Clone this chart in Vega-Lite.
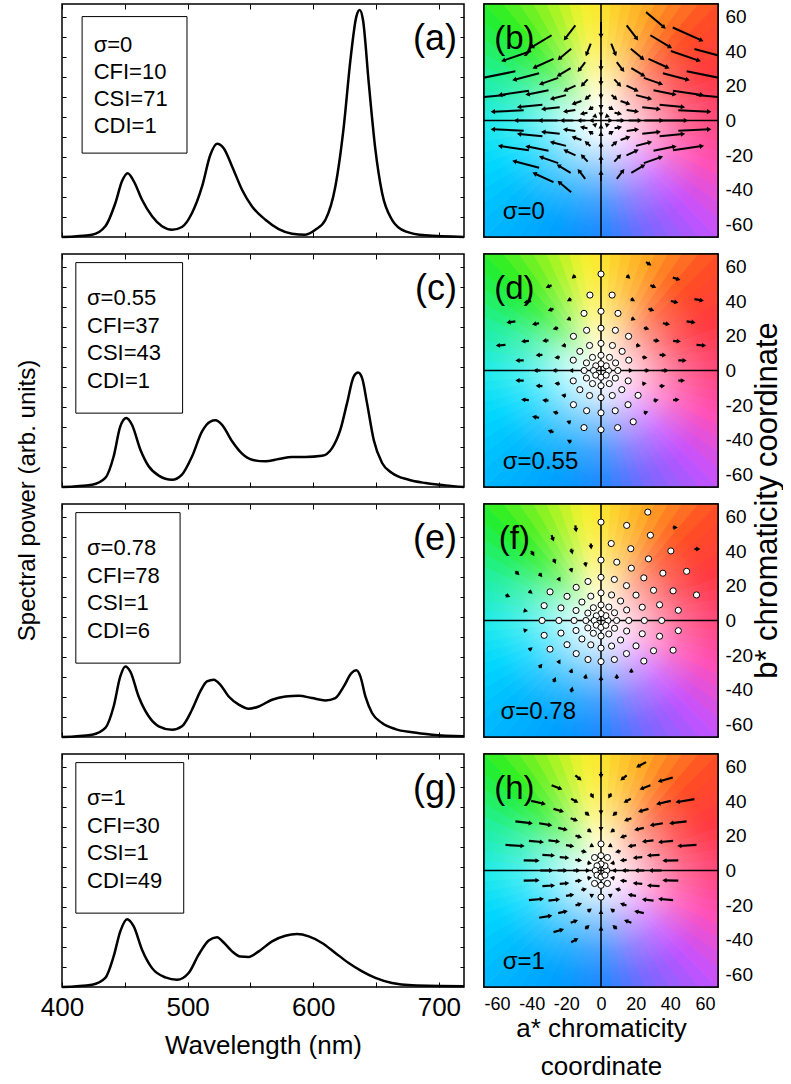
{
"$schema":"https://vega.github.io/schema/vega-lite/v6.json",
"padding":{"left":14,"top":2,"right":0,"bottom":0},
"config":{"font":"Liberation Sans","view":{"stroke":"black","strokeWidth":1.5},"axis":{"domain":false,"grid":false,"tickColor":"black","tickWidth":1,"labelColor":"black","titleColor":"black","labelFont":"Liberation Sans","titleFont":"Liberation Sans","titleFontWeight":"normal"},"text":{"color":"black","font":"Liberation Sans"}},
"datasets":{
"spec":[
{"p":"a","w":400,"v":0},{"p":"a","w":423.9,"v":0.01},{"p":"a","w":434.5,"v":0.046},{"p":"a","w":442.5,"v":0.146},{"p":"a","w":447.8,"v":0.24},{"p":"a","w":452.3,"v":0.274},{"p":"a","w":457.1,"v":0.24},{"p":"a","w":463.7,"v":0.16},{"p":"a","w":471.7,"v":0.089},{"p":"a","w":479.6,"v":0.046},{"p":"a","w":487.6,"v":0.031},{"p":"a","w":495.5,"v":0.043},{"p":"a","w":503.5,"v":0.103},{"p":"a","w":511.5,"v":0.217},{"p":"a","w":518.1,"v":0.353},{"p":"a","w":523.4,"v":0.4},{"p":"a","w":528.7,"v":0.381},{"p":"a","w":535.4,"v":0.303},{"p":"a","w":543.3,"v":0.203},{"p":"a","w":551.3,"v":0.131},{"p":"a","w":561.9,"v":0.074},{"p":"a","w":572.5,"v":0.034},{"p":"a","w":583.1,"v":0.014},{"p":"a","w":593.7,"v":0.01},{"p":"a","w":601.7,"v":0.031},{"p":"a","w":609.7,"v":0.074},{"p":"a","w":617.6,"v":0.217},{"p":"a","w":624.3,"v":0.474},{"p":"a","w":629.6,"v":0.76},{"p":"a","w":634.3,"v":0.946},{"p":"a","w":637,"v":0.974},{"p":"a","w":639.6,"v":0.931},{"p":"a","w":644.2,"v":0.66},{"p":"a","w":649.5,"v":0.374},{"p":"a","w":654.8,"v":0.189},{"p":"a","w":662.7,"v":0.074},{"p":"a","w":673.4,"v":0.024},{"p":"a","w":689.3,"v":0.007},{"p":"a","w":720,"v":0},
{"p":"c","w":400,"v":0},{"p":"c","w":423.9,"v":0.01},{"p":"c","w":434.5,"v":0.039},{"p":"c","w":441.1,"v":0.131},{"p":"c","w":446.4,"v":0.26},{"p":"c","w":451.2,"v":0.296},{"p":"c","w":455.7,"v":0.267},{"p":"c","w":462.4,"v":0.16},{"p":"c","w":469,"v":0.089},{"p":"c","w":477,"v":0.049},{"p":"c","w":487.6,"v":0.031},{"p":"c","w":495.5,"v":0.053},{"p":"c","w":503.5,"v":0.131},{"p":"c","w":511.5,"v":0.239},{"p":"c","w":518.1,"v":0.281},{"p":"c","w":522.1,"v":0.286},{"p":"c","w":527.4,"v":0.267},{"p":"c","w":535.4,"v":0.196},{"p":"c","w":543.3,"v":0.143},{"p":"c","w":551.3,"v":0.117},{"p":"c","w":561.9,"v":0.11},{"p":"c","w":572.5,"v":0.12},{"p":"c","w":583.1,"v":0.129},{"p":"c","w":593.7,"v":0.129},{"p":"c","w":607,"v":0.134},{"p":"c","w":615,"v":0.167},{"p":"c","w":621.6,"v":0.246},{"p":"c","w":626.9,"v":0.36},{"p":"c","w":632.2,"v":0.474},{"p":"c","w":635.7,"v":0.491},{"p":"c","w":638.9,"v":0.467},{"p":"c","w":642.8,"v":0.36},{"p":"c","w":648.1,"v":0.203},{"p":"c","w":654.8,"v":0.103},{"p":"c","w":662.7,"v":0.06},{"p":"c","w":676,"v":0.031},{"p":"c","w":689.3,"v":0.017},{"p":"c","w":705.2,"v":0.007},{"p":"c","w":720,"v":0},
{"p":"e","w":400,"v":0},{"p":"e","w":423.9,"v":0.01},{"p":"e","w":434.5,"v":0.039},{"p":"e","w":441.1,"v":0.131},{"p":"e","w":446.4,"v":0.26},{"p":"e","w":450.4,"v":0.303},{"p":"e","w":454.4,"v":0.281},{"p":"e","w":461,"v":0.174},{"p":"e","w":469,"v":0.089},{"p":"e","w":477,"v":0.046},{"p":"e","w":487.6,"v":0.031},{"p":"e","w":495.5,"v":0.046},{"p":"e","w":503.5,"v":0.117},{"p":"e","w":510.1,"v":0.196},{"p":"e","w":515.4,"v":0.239},{"p":"e","w":520.8,"v":0.246},{"p":"e","w":526.1,"v":0.224},{"p":"e","w":532.7,"v":0.174},{"p":"e","w":540.7,"v":0.139},{"p":"e","w":548.6,"v":0.121},{"p":"e","w":556.6,"v":0.131},{"p":"e","w":567.2,"v":0.16},{"p":"e","w":577.8,"v":0.174},{"p":"e","w":588.4,"v":0.177},{"p":"e","w":599,"v":0.167},{"p":"e","w":609.7,"v":0.157},{"p":"e","w":617.6,"v":0.167},{"p":"e","w":624.3,"v":0.217},{"p":"e","w":630.4,"v":0.274},{"p":"e","w":634.3,"v":0.286},{"p":"e","w":637.5,"v":0.26},{"p":"e","w":641.5,"v":0.174},{"p":"e","w":646.8,"v":0.103},{"p":"e","w":654.8,"v":0.06},{"p":"e","w":665.4,"v":0.034},{"p":"e","w":678.7,"v":0.02},{"p":"e","w":694.6,"v":0.01},{"p":"e","w":720,"v":0.003},
{"p":"g","w":400,"v":0},{"p":"g","w":423.9,"v":0.01},{"p":"g","w":434.5,"v":0.039},{"p":"g","w":441.1,"v":0.131},{"p":"g","w":446.4,"v":0.239},{"p":"g","w":451.8,"v":0.291},{"p":"g","w":457.1,"v":0.26},{"p":"g","w":463.7,"v":0.16},{"p":"g","w":471.7,"v":0.081},{"p":"g","w":482.3,"v":0.041},{"p":"g","w":491.6,"v":0.031},{"p":"g","w":500.8,"v":0.06},{"p":"g","w":508.8,"v":0.139},{"p":"g","w":516.8,"v":0.2},{"p":"g","w":523.4,"v":0.214},{"p":"g","w":528.7,"v":0.191},{"p":"g","w":535.4,"v":0.153},{"p":"g","w":542,"v":0.131},{"p":"g","w":548.6,"v":0.129},{"p":"g","w":556.6,"v":0.153},{"p":"g","w":567.2,"v":0.196},{"p":"g","w":577.8,"v":0.22},{"p":"g","w":587.1,"v":0.227},{"p":"g","w":596.4,"v":0.217},{"p":"g","w":607,"v":0.189},{"p":"g","w":617.6,"v":0.146},{"p":"g","w":628.2,"v":0.103},{"p":"g","w":638.9,"v":0.067},{"p":"g","w":649.5,"v":0.039},{"p":"g","w":662.7,"v":0.017},{"p":"g","w":678.7,"v":0.007},{"p":"g","w":720,"v":0.003}
],
"hue":[{"k":0,"w":1},{"k":1,"w":1},{"k":2,"w":1},{"k":3,"w":1},{"k":4,"w":1},{"k":5,"w":1},{"k":6,"w":1},{"k":7,"w":1},{"k":8,"w":1},{"k":9,"w":1},{"k":10,"w":1},{"k":11,"w":1},{"k":12,"w":1},{"k":13,"w":1},{"k":14,"w":1},{"k":15,"w":1},{"k":16,"w":1},{"k":17,"w":1},{"k":18,"w":1},{"k":19,"w":1},{"k":20,"w":1},{"k":21,"w":1},{"k":22,"w":1},{"k":23,"w":1},{"k":24,"w":1},{"k":25,"w":1},{"k":26,"w":1},{"k":27,"w":1},{"k":28,"w":1},{"k":29,"w":1},{"k":30,"w":1},{"k":31,"w":1},{"k":32,"w":1},{"k":33,"w":1},{"k":34,"w":1},{"k":35,"w":1},{"k":36,"w":1},{"k":37,"w":1},{"k":38,"w":1},{"k":39,"w":1},{"k":40,"w":1},{"k":41,"w":1},{"k":42,"w":1},{"k":43,"w":1},{"k":44,"w":1},{"k":45,"w":1},{"k":46,"w":1},{"k":47,"w":1},{"k":48,"w":1},{"k":49,"w":1},{"k":50,"w":1},{"k":51,"w":1},{"k":52,"w":1},{"k":53,"w":1},{"k":54,"w":1},{"k":55,"w":1},{"k":56,"w":1},{"k":57,"w":1},{"k":58,"w":1},{"k":59,"w":1},{"k":60,"w":1},{"k":61,"w":1},{"k":62,"w":1},{"k":63,"w":1},{"k":64,"w":1},{"k":65,"w":1},{"k":66,"w":1},{"k":67,"w":1},{"k":68,"w":1},{"k":69,"w":1},{"k":70,"w":1},{"k":71,"w":1}],
"arr":[
{"a":4,"b":0,"ba":5.6,"bb":0,"da":4.3,"db":0,"fa":4,"fb":0,"ha":3.3,"hb":0},
{"a":2.8,"b":2.8,"ba":3.9,"bb":2.4,"da":3,"db":2.7,"fa":2.8,"fb":2.8,"ha":2.3,"hb":2.7},
{"a":0,"b":4,"ba":0,"bb":3.4,"da":0,"db":3.9,"fa":0,"fb":4,"ha":0,"hb":3.8},
{"a":-2.8,"b":2.8,"ba":-3.9,"bb":2.4,"da":-3,"db":2.7,"fa":-2.7,"fb":2.7,"ha":-2.3,"hb":2.7},
{"a":-4,"b":0,"ba":-5.6,"bb":0,"da":-4.3,"db":0,"fa":-3.9,"fb":0,"ha":-3.3,"hb":0},
{"a":-2.8,"b":-2.8,"ba":-3.9,"bb":-2.4,"da":-3,"db":-2.7,"fa":-2.7,"fb":-2.7,"ha":-2.3,"hb":-2.7},
{"a":0,"b":-4,"ba":0,"bb":-3.4,"da":0,"db":-3.9,"fa":0,"fb":-4,"ha":0,"hb":-3.8},
{"a":2.8,"b":-2.8,"ba":3.9,"bb":-2.4,"da":3,"db":-2.7,"fa":2.8,"fb":-2.8,"ha":2.3,"hb":-2.7},
{"a":9,"b":0,"ba":12.6,"bb":0,"da":9.7,"db":0,"fa":9,"fb":0,"ha":7.4,"hb":0},
{"a":7.8,"b":4.5,"ba":10.9,"bb":3.9,"da":8.4,"db":4.4,"fa":7.8,"fb":4.5,"ha":6.4,"hb":4.3},
{"a":4.5,"b":7.8,"ba":6.3,"bb":6.7,"da":4.9,"db":7.6,"fa":4.5,"fb":7.8,"ha":3.7,"hb":7.5},
{"a":0,"b":9,"ba":0,"bb":7.7,"da":0,"db":8.8,"fa":0,"fb":9,"ha":0,"hb":8.6},
{"a":-4.5,"b":7.8,"ba":-6.3,"bb":6.7,"da":-4.9,"db":7.6,"fa":-4.4,"fb":7.4,"ha":-3.7,"hb":7.5},
{"a":-7.8,"b":4.5,"ba":-10.9,"bb":3.9,"da":-8.4,"db":4.4,"fa":-7.6,"fb":4.3,"ha":-6.4,"hb":4.3},
{"a":-9,"b":0,"ba":-12.6,"bb":0,"da":-9.7,"db":0,"fa":-8.7,"fb":0,"ha":-7.4,"hb":0},
{"a":-7.8,"b":-4.5,"ba":-10.9,"bb":-3.9,"da":-8.4,"db":-4.4,"fa":-7.6,"fb":-4.3,"ha":-6.4,"hb":-4.3},
{"a":-4.5,"b":-7.8,"ba":-6.3,"bb":-6.7,"da":-4.9,"db":-7.6,"fa":-4.4,"fb":-7.4,"ha":-3.7,"hb":-7.5},
{"a":0,"b":-9,"ba":0,"bb":-7.7,"da":0,"db":-8.8,"fa":0,"fb":-9,"ha":0,"hb":-8.6},
{"a":4.5,"b":-7.8,"ba":6.3,"bb":-6.7,"da":4.8,"db":-7.6,"fa":4.5,"fb":-7.8,"ha":3.7,"hb":-7.5},
{"a":7.8,"b":-4.5,"ba":10.9,"bb":-3.9,"da":8.3,"db":-4.4,"fa":7.8,"fb":-4.5,"ha":6.4,"hb":-4.3},
{"a":16,"b":0,"ba":22.4,"bb":0,"da":17.3,"db":0,"fa":16,"fb":0,"ha":13.1,"hb":0},
{"a":14.8,"b":6.1,"ba":20.7,"bb":5.2,"da":16,"db":6,"fa":14.8,"fb":6.1,"ha":12.1,"hb":5.9},
{"a":11.3,"b":11.3,"ba":15.8,"bb":9.7,"da":12.2,"db":11.1,"fa":11.3,"fb":11.3,"ha":9.3,"hb":10.8},
{"a":6.1,"b":14.8,"ba":8.5,"bb":12.7,"da":6.6,"db":14.5,"fa":6.1,"fb":14.8,"ha":5,"hb":14.2},
{"a":0,"b":16,"ba":0,"bb":13.8,"da":0,"db":15.7,"fa":0,"fb":16,"ha":0,"hb":15.4},
{"a":-6.1,"b":14.8,"ba":-8.5,"bb":12.7,"da":-6.6,"db":14.5,"fa":-5.9,"fb":14.1,"ha":-5,"hb":14.2},
{"a":-11.3,"b":11.3,"ba":-15.8,"bb":9.7,"da":-12.2,"db":11.1,"fa":-11,"fb":10.7,"ha":-9.3,"hb":10.8},
{"a":-14.8,"b":6.1,"ba":-20.7,"bb":5.2,"da":-16,"db":6,"fa":-14.4,"fb":5.8,"ha":-12.1,"hb":5.9},
{"a":-16,"b":0,"ba":-22.4,"bb":0,"da":-17.3,"db":0,"fa":-15.5,"fb":0,"ha":-13.1,"hb":0},
{"a":-14.8,"b":-6.1,"ba":-20.7,"bb":-5.2,"da":-16,"db":-6,"fa":-14.4,"fb":-5.8,"ha":-12.1,"hb":-5.9},
{"a":-11.3,"b":-11.3,"ba":-15.8,"bb":-9.7,"da":-12.2,"db":-11.1,"fa":-11,"fb":-10.7,"ha":-9.3,"hb":-10.8},
{"a":-6.1,"b":-14.8,"ba":-8.5,"bb":-12.7,"da":-6.6,"db":-14.5,"fa":-5.9,"fb":-14.1,"ha":-5,"hb":-14.2},
{"a":0,"b":-16,"ba":0,"bb":-13.8,"da":0,"db":-15.7,"fa":0,"fb":-16,"ha":0,"hb":-15.4},
{"a":6.1,"b":-14.8,"ba":8.5,"bb":-12.7,"da":6.5,"db":-14.5,"fa":6.1,"fb":-14.8,"ha":5,"hb":-14.2},
{"a":11.3,"b":-11.3,"ba":15.8,"bb":-9.7,"da":12,"db":-11.1,"fa":11.3,"fb":-11.3,"ha":9.3,"hb":-10.8},
{"a":14.8,"b":-6.1,"ba":20.7,"bb":-5.2,"da":15.7,"db":-6,"fa":14.8,"fb":-6.1,"ha":12.1,"hb":-5.9},
{"a":25,"b":0,"ba":35,"bb":0,"da":27,"db":0,"fa":25,"fb":0,"ha":20.5,"hb":0},
{"a":23.8,"b":7.7,"ba":33.3,"bb":6.6,"da":25.7,"db":7.5,"fa":23.8,"fb":7.7,"ha":19.5,"hb":7.4},
{"a":20.2,"b":14.7,"ba":28.3,"bb":12.6,"da":21.8,"db":14.4,"fa":20.2,"fb":14.7,"ha":16.6,"hb":14.1},
{"a":14.7,"b":20.2,"ba":20.6,"bb":17.4,"da":15.9,"db":19.8,"fa":14.7,"fb":20.2,"ha":12.1,"hb":19.4},
{"a":7.7,"b":23.8,"ba":10.8,"bb":20.5,"da":8.3,"db":23.3,"fa":7.7,"fb":23.8,"ha":6.3,"hb":22.8},
{"a":0,"b":25,"ba":0,"bb":21.5,"da":0,"db":24.5,"fa":0,"fb":25,"ha":0,"hb":24},
{"a":-7.7,"b":23.8,"ba":-10.8,"bb":20.5,"da":-8.3,"db":23.3,"fa":-7.5,"fb":22.6,"ha":-6.3,"hb":22.8},
{"a":-14.7,"b":20.2,"ba":-20.6,"bb":17.4,"da":-15.9,"db":19.8,"fa":-14.3,"fb":19.2,"ha":-12.1,"hb":19.4},
{"a":-20.2,"b":14.7,"ba":-28.3,"bb":12.6,"da":-21.8,"db":14.4,"fa":-19.6,"fb":14,"ha":-16.6,"hb":14.1},
{"a":-23.8,"b":7.7,"ba":-33.3,"bb":6.6,"da":-25.7,"db":7.5,"fa":-23.1,"fb":7.3,"ha":-19.5,"hb":7.4},
{"a":-25,"b":0,"ba":-35,"bb":0,"da":-27,"db":0,"fa":-24.3,"fb":0,"ha":-20.5,"hb":0},
{"a":-23.8,"b":-7.7,"ba":-33.3,"bb":-6.6,"da":-25.7,"db":-7.5,"fa":-23.1,"fb":-7.3,"ha":-19.5,"hb":-7.4},
{"a":-20.2,"b":-14.7,"ba":-28.3,"bb":-12.6,"da":-21.8,"db":-14.4,"fa":-19.6,"fb":-14,"ha":-16.6,"hb":-14.1},
{"a":-14.7,"b":-20.2,"ba":-20.6,"bb":-17.4,"da":-15.9,"db":-19.8,"fa":-14.3,"fb":-19.2,"ha":-12.1,"hb":-19.4},
{"a":-7.7,"b":-23.8,"ba":-10.8,"bb":-20.5,"da":-8.3,"db":-23.3,"fa":-7.5,"fb":-22.6,"ha":-6.3,"hb":-22.8},
{"a":0,"b":-25,"ba":0,"bb":-21.5,"da":0,"db":-24.5,"fa":0,"fb":-23.8,"ha":0,"hb":-24},
{"a":7.7,"b":-23.8,"ba":10.8,"bb":-20.5,"da":8.2,"db":-23.3,"fa":7.7,"fb":-22.6,"ha":6.3,"hb":-22.8},
{"a":14.7,"b":-20.2,"ba":20.6,"bb":-17.4,"da":15.6,"db":-19.8,"fa":14.7,"fb":-19.2,"ha":12.1,"hb":-19.4},
{"a":20.2,"b":-14.7,"ba":28.3,"bb":-12.6,"da":21.4,"db":-14.4,"fa":20.2,"fb":-14.7,"ha":16.6,"hb":-14.1},
{"a":23.8,"b":-7.7,"ba":33.3,"bb":-6.6,"da":25.2,"db":-7.5,"fa":23.8,"fb":-7.7,"ha":19.5,"hb":-7.4},
{"a":35,"b":0,"ba":49,"bb":0,"da":37.8,"db":0,"fa":35,"fb":0,"ha":28.7,"hb":0},
{"a":33.8,"b":9.1,"ba":47.3,"bb":7.8,"da":36.5,"db":8.9,"fa":33.8,"fb":9.1,"ha":27.7,"hb":8.7},
{"a":30.3,"b":17.5,"ba":42.4,"bb":15.1,"da":32.7,"db":17.2,"fa":30.3,"fb":17.5,"ha":24.8,"hb":16.8},
{"a":24.7,"b":24.7,"ba":34.6,"bb":21.2,"da":26.7,"db":24.2,"fa":24.7,"fb":24.7,"ha":20.3,"hb":23.7},
{"a":17.5,"b":30.3,"ba":24.5,"bb":26.1,"da":18.9,"db":29.7,"fa":17.5,"fb":30.3,"ha":14.4,"hb":29.1},
{"a":9.1,"b":33.8,"ba":12.7,"bb":29.1,"da":9.8,"db":33.1,"fa":9.1,"fb":33.8,"ha":7.5,"hb":32.4},
{"a":0,"b":35,"ba":0,"bb":30.1,"da":0,"db":34.3,"fa":0,"fb":35,"ha":0,"hb":33.6},
{"a":-9.1,"b":33.8,"ba":-12.7,"bb":29.1,"da":-9.8,"db":33.1,"fa":-8.8,"fb":32.1,"ha":-7.5,"hb":32.4},
{"a":-17.5,"b":30.3,"ba":-24.5,"bb":26.1,"da":-18.9,"db":29.7,"fa":-17,"fb":28.8,"ha":-14.4,"hb":29.1},
{"a":-24.7,"b":24.7,"ba":-34.6,"bb":21.2,"da":-26.7,"db":24.2,"fa":-24,"fb":23.5,"ha":-20.3,"hb":23.7},
{"a":-30.3,"b":17.5,"ba":-42.4,"bb":15.1,"da":-32.7,"db":17.2,"fa":-29.4,"fb":16.6,"ha":-24.8,"hb":16.8},
{"a":-33.8,"b":9.1,"ba":-47.3,"bb":7.8,"da":-36.5,"db":8.9,"fa":-32.8,"fb":8.6,"ha":-27.7,"hb":8.7},
{"a":-35,"b":0,"ba":-49,"bb":0,"da":-37.8,"db":0,"fa":-34,"fb":0,"ha":-28.7,"hb":0},
{"a":-33.8,"b":-9.1,"ba":-47.3,"bb":-7.8,"da":-36.5,"db":-8.9,"fa":-32.8,"fb":-8.6,"ha":-27.7,"hb":-8.7},
{"a":-30.3,"b":-17.5,"ba":-42.4,"bb":-15.1,"da":-32.7,"db":-17.2,"fa":-29.4,"fb":-16.6,"ha":-24.8,"hb":-16.8},
{"a":-24.7,"b":-24.7,"ba":-34.6,"bb":-21.2,"da":-26.7,"db":-24.2,"fa":-24,"fb":-23.5,"ha":-20.3,"hb":-23.7},
{"a":-17.5,"b":-30.3,"ba":-24.5,"bb":-26.1,"da":-18.9,"db":-29.7,"fa":-17,"fb":-28.8,"ha":-14.4,"hb":-29.1},
{"a":-9.1,"b":-33.8,"ba":-12.7,"bb":-29.1,"da":-9.8,"db":-33.1,"fa":-8.8,"fb":-32.1,"ha":-7.5,"hb":-32.4},
{"a":0,"b":-35,"ba":0,"bb":-30.1,"da":0,"db":-34.3,"fa":0,"fb":-33.3,"ha":0,"hb":-33.6},
{"a":9.1,"b":-33.8,"ba":12.7,"bb":-29.1,"da":9.6,"db":-33.1,"fa":9.1,"fb":-32.1,"ha":7.5,"hb":-32.4},
{"a":17.5,"b":-30.3,"ba":24.5,"bb":-26.1,"da":18.6,"db":-29.7,"fa":17.5,"fb":-28.8,"ha":14.4,"hb":-29.1},
{"a":24.7,"b":-24.7,"ba":34.6,"bb":-21.2,"da":26.2,"db":-24.2,"fa":24.7,"fb":-23.5,"ha":20.3,"hb":-23.7},
{"a":30.3,"b":-17.5,"ba":42.4,"bb":-15.1,"da":32.1,"db":-17.2,"fa":30.3,"fb":-17.5,"ha":24.8,"hb":-16.8},
{"a":33.8,"b":-9.1,"ba":47.3,"bb":-7.8,"da":35.8,"db":-8.9,"fa":33.8,"fb":-9.1,"ha":27.7,"hb":-8.7},
{"a":44.6,"b":5.9,"ba":62.4,"bb":5.1,"da":48.2,"db":5.8,"fa":44.6,"fb":5.9,"ha":36.6,"hb":5.7},
{"a":41.6,"b":17.2,"ba":58.2,"bb":14.8,"da":44.9,"db":16.9,"fa":41.6,"fb":17.2,"ha":34.1,"hb":16.5},
{"a":35.7,"b":27.4,"ba":50,"bb":23.6,"da":38.6,"db":26.9,"fa":35.7,"fb":27.4,"ha":29.3,"hb":26.3},
{"a":27.4,"b":35.7,"ba":38.4,"bb":30.7,"da":29.6,"db":35,"fa":27.4,"fb":35.7,"ha":22.5,"hb":34.3},
{"a":17.2,"b":41.6,"ba":24.1,"bb":35.8,"da":18.6,"db":40.8,"fa":17.2,"fb":41.6,"ha":14.1,"hb":39.9},
{"a":5.9,"b":44.6,"ba":8.3,"bb":38.4,"da":6.4,"db":43.7,"fa":5.9,"fb":44.6,"ha":4.8,"hb":42.8},
{"a":-5.9,"b":44.6,"ba":-8.3,"bb":38.4,"da":-6.4,"db":43.7,"fa":-5.7,"fb":42.4,"ha":-4.8,"hb":42.8},
{"a":-17.2,"b":41.6,"ba":-24.1,"bb":35.8,"da":-18.6,"db":40.8,"fa":-16.7,"fb":39.5,"ha":-14.1,"hb":39.9},
{"a":-27.4,"b":35.7,"ba":-38.4,"bb":30.7,"da":-29.6,"db":35,"fa":-26.6,"fb":33.9,"ha":-22.5,"hb":34.3},
{"a":-35.7,"b":27.4,"ba":-50,"bb":23.6,"da":-38.6,"db":26.9,"fa":-34.6,"fb":26,"ha":-29.3,"hb":26.3},
{"a":-41.6,"b":17.2,"ba":-58.2,"bb":14.8,"da":-44.9,"db":16.9,"fa":-40.4,"fb":16.3,"ha":-34.1,"hb":16.5},
{"a":-44.6,"b":5.9,"ba":-62.4,"bb":5.1,"da":-48.2,"db":5.8,"fa":-43.3,"fb":5.6,"ha":-36.6,"hb":5.7},
{"a":-44.6,"b":-5.9,"ba":-62.4,"bb":-5.1,"da":-48.2,"db":-5.8,"fa":-43.3,"fb":-5.6,"ha":-36.6,"hb":-5.7},
{"a":-41.6,"b":-17.2,"ba":-58.2,"bb":-14.8,"da":-44.9,"db":-16.9,"fa":-40.4,"fb":-16.3,"ha":-34.1,"hb":-16.5},
{"a":-35.7,"b":-27.4,"ba":-50,"bb":-23.6,"da":-38.6,"db":-26.9,"fa":-34.6,"fb":-26,"ha":-29.3,"hb":-26.3},
{"a":-27.4,"b":-35.7,"ba":-38.4,"bb":-30.7,"da":-29.6,"db":-35,"fa":-26.6,"fb":-33.9,"ha":-22.5,"hb":-34.3},
{"a":-17.2,"b":-41.6,"ba":-24.1,"bb":-35.8,"da":-18.6,"db":-40.8,"fa":-16.7,"fb":-39.5,"ha":-14.1,"hb":-39.9},
{"a":41.6,"b":-17.2,"ba":58.2,"bb":-14.8,"da":44.1,"db":-16.9,"fa":41.6,"fb":-17.2,"ha":34.1,"hb":-16.5},
{"a":44.6,"b":-5.9,"ba":62.4,"bb":-5.1,"da":47.3,"db":-5.8,"fa":44.6,"fb":-5.9,"ha":36.6,"hb":-5.7},
{"a":55.1,"b":14.8,"ba":77.1,"bb":12.7,"da":59.5,"db":14.5,"fa":55.1,"fb":14.8,"ha":45.2,"hb":14.2},
{"a":49.4,"b":28.5,"ba":69.2,"bb":24.5,"da":53.4,"db":27.9,"fa":49.4,"fb":28.5,"ha":40.5,"hb":27.4},
{"a":40.3,"b":40.3,"ba":56.4,"bb":34.7,"da":43.5,"db":39.5,"fa":40.3,"fb":40.3,"ha":33,"hb":38.7},
{"a":28.5,"b":49.4,"ba":39.9,"bb":42.5,"da":30.8,"db":48.4,"fa":28.5,"fb":49.4,"ha":23.4,"hb":47.4},
{"a":14.8,"b":55.1,"ba":20.7,"bb":47.4,"da":16,"db":54,"fa":14.8,"fb":55.1,"ha":12.1,"hb":52.9},
{"a":0,"b":57,"ba":0,"bb":49,"da":0,"db":55.9,"fa":0,"fb":57,"ha":0,"hb":54.7},
{"a":-14.8,"b":55.1,"ba":-20.7,"bb":47.4,"da":-16,"db":54,"fa":-14.4,"fb":52.3,"ha":-12.1,"hb":52.9},
{"a":-28.5,"b":49.4,"ba":-39.9,"bb":42.5,"da":-30.8,"db":48.4,"fa":-27.6,"fb":46.9,"ha":-23.4,"hb":47.4},
{"a":-40.3,"b":40.3,"ba":-56.4,"bb":34.7,"da":-43.5,"db":39.5,"fa":-39.1,"fb":38.3,"ha":-33,"hb":38.7},
{"a":-49.4,"b":28.5,"ba":-69.2,"bb":24.5,"da":-53.4,"db":27.9,"fa":-47.9,"fb":27.1,"ha":-40.5,"hb":27.4},
{"a":-55.1,"b":14.8,"ba":-77.1,"bb":12.7,"da":-59.5,"db":14.5,"fa":-53.4,"fb":14.1,"ha":-45.2,"hb":14.2},
{"a":53.9,"b":41.4,"ba":75.5,"bb":35.6,"da":58.2,"db":40.6,"fa":56.1,"fb":41.4,"ha":44.2,"hb":39.7},
{"a":41.4,"b":53.9,"ba":58,"bb":46.4,"da":44.7,"db":52.8,"fa":43.1,"fb":53.9,"ha":33.9,"hb":51.7},
{"a":26,"b":62.8,"ba":36.4,"bb":54,"da":28.1,"db":61.5,"fa":27,"fb":62.8,"ha":21.3,"hb":60.3}
]
},
"spacing":12,
"hconcat":[
{"vconcat":[
{"width":402,"height":233,"resolve":{"axis":{"x":"independent","y":"independent"}},"layer":[
{"data":{"name":"spec"},"transform":[{"filter":"datum.p == 'a'"}],"mark":{"type":"line","color":"black","strokeWidth":2.5,"interpolate":"monotone"},"encoding":{"x":{"field":"w","type":"quantitative","scale":{"domain":[400,720],"nice":false,"zero":false},"axis":{"orient":"bottom","values":[400,450,500,550,600,650,700],"tickSize":-5,"labels":false,"title":null}},"y":{"field":"v","type":"quantitative","scale":{"domain":[0,1],"nice":false},"axis":{"orient":"left","values":[0.0857,0.1714,0.2571,0.3429,0.4286,0.5143,0.6,0.6857,0.7714,0.8571,0.9429],"tickSize":-4,"labels":false,"title":null}}}},
{"data":{"name":"spec"},"transform":[{"filter":"datum.p == 'a'"}],"mark":{"type":"point","opacity":0},"encoding":{"x":{"field":"w","type":"quantitative","axis":{"orient":"top","values":[400,450,500,550,600,650,700],"tickSize":-5,"labels":false,"title":null}},"y":{"field":"v","type":"quantitative","axis":{"orient":"right","values":[0.0857,0.1714,0.2571,0.3429,0.4286,0.5143,0.6,0.6857,0.7714,0.8571,0.9429],"tickSize":-4,"labels":false,"title":null}}}},
{"data":{"values":[{}]},"mark":{"type":"rect","fillOpacity":0,"stroke":"black","strokeWidth":1},"encoding":{"x":{"datum":416,"axis":null},"x2":{"datum":499.5},"y":{"datum":0.946,"axis":null},"y2":{"datum":0.36}}},
{"data":{"values":[{"t":"σ=0\nCFI=10\nCSI=71\nCDI=1"}]},"mark":{"type":"text","align":"left","baseline":"alphabetic","fontSize":22,"lineBreak":"\n","lineHeight":27},"encoding":{"x":{"datum":425.2,"axis":null},"y":{"datum":0.795,"axis":null},"text":{"field":"t"}}},
{"data":{"values":[{"t":"(a)"}]},"mark":{"type":"text","align":"right","baseline":"alphabetic","fontSize":36},"encoding":{"x":{"datum":714.5,"axis":null},"y":{"datum":0.803,"axis":null},"text":{"field":"t"}}}
]},
{"width":402,"height":233,"resolve":{"axis":{"x":"independent","y":"independent"}},"layer":[
{"data":{"name":"spec"},"transform":[{"filter":"datum.p == 'c'"}],"mark":{"type":"line","color":"black","strokeWidth":2.5,"interpolate":"monotone"},"encoding":{"x":{"field":"w","type":"quantitative","scale":{"domain":[400,720],"nice":false,"zero":false},"axis":{"orient":"bottom","values":[400,450,500,550,600,650,700],"tickSize":-5,"labels":false,"title":null}},"y":{"field":"v","type":"quantitative","scale":{"domain":[0,1],"nice":false},"axis":{"orient":"left","values":[0.0857,0.1714,0.2571,0.3429,0.4286,0.5143,0.6,0.6857,0.7714,0.8571,0.9429],"tickSize":-4,"labels":false,"title":"Spectral power (arb. units)","titleFontSize":24,"titleAngle":270,"titleX":-28,"titleY":246,"titleAlign":"center","titleBaseline":"alphabetic"}}}},
{"data":{"name":"spec"},"transform":[{"filter":"datum.p == 'c'"}],"mark":{"type":"point","opacity":0},"encoding":{"x":{"field":"w","type":"quantitative","axis":{"orient":"top","values":[400,450,500,550,600,650,700],"tickSize":-5,"labels":false,"title":null}},"y":{"field":"v","type":"quantitative","axis":{"orient":"right","values":[0.0857,0.1714,0.2571,0.3429,0.4286,0.5143,0.6,0.6857,0.7714,0.8571,0.9429],"tickSize":-4,"labels":false,"title":null}}}},
{"data":{"values":[{}]},"mark":{"type":"rect","fillOpacity":0,"stroke":"black","strokeWidth":1},"encoding":{"x":{"datum":411,"axis":null},"x2":{"datum":496},"y":{"datum":0.963,"axis":null},"y2":{"datum":0.317}}},
{"data":{"values":[{"t":"σ=0.55\nCFI=37\nCSI=43\nCDI=1"}]},"mark":{"type":"text","align":"left","baseline":"alphabetic","fontSize":22,"lineBreak":"\n","lineHeight":27.5},"encoding":{"x":{"datum":419.9,"axis":null},"y":{"datum":0.781,"axis":null},"text":{"field":"t"}}},
{"data":{"values":[{"t":"(c)"}]},"mark":{"type":"text","align":"right","baseline":"alphabetic","fontSize":36},"encoding":{"x":{"datum":714.5,"axis":null},"y":{"datum":0.803,"axis":null},"text":{"field":"t"}}}
]},
{"width":402,"height":233,"resolve":{"axis":{"x":"independent","y":"independent"}},"layer":[
{"data":{"name":"spec"},"transform":[{"filter":"datum.p == 'e'"}],"mark":{"type":"line","color":"black","strokeWidth":2.5,"interpolate":"monotone"},"encoding":{"x":{"field":"w","type":"quantitative","scale":{"domain":[400,720],"nice":false,"zero":false},"axis":{"orient":"bottom","values":[400,450,500,550,600,650,700],"tickSize":-5,"labels":false,"title":null}},"y":{"field":"v","type":"quantitative","scale":{"domain":[0,1],"nice":false},"axis":{"orient":"left","values":[0.0857,0.1714,0.2571,0.3429,0.4286,0.5143,0.6,0.6857,0.7714,0.8571,0.9429],"tickSize":-4,"labels":false,"title":null}}}},
{"data":{"name":"spec"},"transform":[{"filter":"datum.p == 'e'"}],"mark":{"type":"point","opacity":0},"encoding":{"x":{"field":"w","type":"quantitative","axis":{"orient":"top","values":[400,450,500,550,600,650,700],"tickSize":-5,"labels":false,"title":null}},"y":{"field":"v","type":"quantitative","axis":{"orient":"right","values":[0.0857,0.1714,0.2571,0.3429,0.4286,0.5143,0.6,0.6857,0.7714,0.8571,0.9429],"tickSize":-4,"labels":false,"title":null}}}},
{"data":{"values":[{}]},"mark":{"type":"rect","fillOpacity":0,"stroke":"black","strokeWidth":1},"encoding":{"x":{"datum":411,"axis":null},"x2":{"datum":494},"y":{"datum":0.963,"axis":null},"y2":{"datum":0.317}}},
{"data":{"values":[{"t":"σ=0.78\nCFI=78\nCSI=1\nCDI=6"}]},"mark":{"type":"text","align":"left","baseline":"alphabetic","fontSize":22,"lineBreak":"\n","lineHeight":27.5},"encoding":{"x":{"datum":419.9,"axis":null},"y":{"datum":0.781,"axis":null},"text":{"field":"t"}}},
{"data":{"values":[{"t":"(e)"}]},"mark":{"type":"text","align":"right","baseline":"alphabetic","fontSize":36},"encoding":{"x":{"datum":714.5,"axis":null},"y":{"datum":0.803,"axis":null},"text":{"field":"t"}}}
]},
{"width":402,"height":233,"resolve":{"axis":{"x":"independent","y":"independent"}},"layer":[
{"data":{"name":"spec"},"transform":[{"filter":"datum.p == 'g'"}],"mark":{"type":"line","color":"black","strokeWidth":2.5,"interpolate":"monotone"},"encoding":{"x":{"field":"w","type":"quantitative","scale":{"domain":[400,720],"nice":false,"zero":false},"axis":{"orient":"bottom","values":[400,450,500,550,600,650,700],"tickSize":-5,"labelExpr":"datum.value % 100 == 0 ? '' + datum.value : ''","labelFontSize":26,"labelPadding":12,"labelFlush":false,"labelOverlap":false,"title":"Wavelength (nm)","titleFontSize":26,"titlePadding":12}},"y":{"field":"v","type":"quantitative","scale":{"domain":[0,1],"nice":false},"axis":{"orient":"left","values":[0.0857,0.1714,0.2571,0.3429,0.4286,0.5143,0.6,0.6857,0.7714,0.8571,0.9429],"tickSize":-4,"labels":false,"title":null}}}},
{"data":{"name":"spec"},"transform":[{"filter":"datum.p == 'g'"}],"mark":{"type":"point","opacity":0},"encoding":{"x":{"field":"w","type":"quantitative","axis":{"orient":"top","values":[400,450,500,550,600,650,700],"tickSize":-5,"labels":false,"title":null}},"y":{"field":"v","type":"quantitative","axis":{"orient":"right","values":[0.0857,0.1714,0.2571,0.3429,0.4286,0.5143,0.6,0.6857,0.7714,0.8571,0.9429],"tickSize":-4,"labels":false,"title":null}}}},
{"data":{"values":[{}]},"mark":{"type":"rect","fillOpacity":0,"stroke":"black","strokeWidth":1},"encoding":{"x":{"datum":411,"axis":null},"x2":{"datum":496.9},"y":{"datum":0.963,"axis":null},"y2":{"datum":0.317}}},
{"data":{"values":[{"t":"σ=1\nCFI=30\nCSI=1\nCDI=49"}]},"mark":{"type":"text","align":"left","baseline":"alphabetic","fontSize":22,"lineBreak":"\n","lineHeight":27.5},"encoding":{"x":{"datum":419.9,"axis":null},"y":{"datum":0.781,"axis":null},"text":{"field":"t"}}},
{"data":{"values":[{"t":"(g)"}]},"mark":{"type":"text","align":"right","baseline":"alphabetic","fontSize":36},"encoding":{"x":{"datum":714.5,"axis":null},"y":{"datum":0.803,"axis":null},"text":{"field":"t"}}}
]}
],"spacing":17,"bounds":"flush"},
{"vconcat":[
{"width":234,"height":233,"resolve":{"axis":{"x":"independent","y":"independent"}},"layer":[
{"data":{"name":"hue"},"mark":{"type":"arc","outerRadius":175,"clip":true,"strokeWidth":1},"encoding":{"theta":{"field":"w","type":"quantitative","stack":true},"order":{"field":"k","type":"quantitative"},"color":{"field":"k","type":"quantitative","legend":null,"scale":{"domain":[-0.5,4,8.5,13,17.5,22,26.5,31,35.5,40,44.5,49,53.5,58,62.5,67,69.5,71.5],"range":["#fce62c","#ffa824","#ff4e22","#ff3a42","#ff4a7c","#ff50b8","#c452ff","#7a68ff","#1e88ff","#00a0ff","#00b6ff","#00d6ff","#22ecea","#22f09c","#24ee24","#a8f424","#f2f22c","#fce62c"],"interpolate":"rgb"}},"stroke":{"field":"k","type":"quantitative","legend":null,"scale":{"domain":[-0.5,4,8.5,13,17.5,22,26.5,31,35.5,40,44.5,49,53.5,58,62.5,67,69.5,71.5],"range":["#fce62c","#ffa824","#ff4e22","#ff3a42","#ff4a7c","#ff50b8","#c452ff","#7a68ff","#1e88ff","#00a0ff","#00b6ff","#00d6ff","#22ecea","#22f09c","#24ee24","#a8f424","#f2f22c","#fce62c"],"interpolate":"rgb"}}}},
{"data":{"values":[{}]},"mark":{"type":"rect","fill":{"gradient":"radial","x1":0.5,"y1":0.5,"r1":0,"x2":0.5,"y2":0.5,"r2":0.5,"stops":[{"offset":0,"color":"rgba(255,255,255,1)"},{"offset":0.15,"color":"rgba(255,255,255,0.9)"},{"offset":0.3,"color":"rgba(255,255,255,0.7)"},{"offset":0.5,"color":"rgba(255,255,255,0.42)"},{"offset":0.7,"color":"rgba(255,255,255,0.18)"},{"offset":0.9,"color":"rgba(255,255,255,0.04)"},{"offset":1,"color":"rgba(255,255,255,0)"}]}},"encoding":{"x":{"value":0},"x2":{"value":"width"},"y":{"value":0},"y2":{"value":"height"}}},
{"data":{"values":[{}]},"mark":{"type":"rule","color":"black","strokeWidth":1.5},"encoding":{"x":{"datum":0,"type":"quantitative","scale":{"domain":[-67.5,67.5],"nice":false,"zero":false},"axis":null}}},
{"data":{"values":[{}]},"mark":{"type":"rule","color":"black","strokeWidth":1.5},"encoding":{"y":{"datum":0,"type":"quantitative","scale":{"domain":[-67.5,67.5],"nice":false,"zero":false},"axis":null}}},
{"data":{"name":"arr"},"mark":{"type":"rule","color":"black","strokeWidth":2,"clip":true},"encoding":{"x":{"field":"a","type":"quantitative","scale":{"domain":[-67.5,67.5],"nice":false,"zero":false},"axis":{"orient":"bottom","values":[-60,-50,-40,-30,-20,-10,0,10,20,30,40,50,60],"tickSize":-4,"labels":false,"title":null}},"y":{"field":"b","type":"quantitative","scale":{"domain":[-67.5,67.5],"nice":false,"zero":false},"axis":{"orient":"right","values":[-60,-50,-40,-30,-20,-10,0,10,20,30,40,50,60],"tickSize":-4,"labelExpr":"datum.value % 20 == 0 ? '' + datum.value : ''","labelFontSize":19,"labelPadding":11,"title":null}},"x2":{"field":"ba"},"y2":{"field":"bb"}}},
{"data":{"name":"arr"},"mark":{"type":"point","shape":"triangle-up","filled":true,"color":"black","opacity":1,"size":26,"clip":true,"angle":{"expr":"atan2(datum.ba - datum.a, datum.bb - datum.b) * 180 / PI"}},"encoding":{"x":{"field":"ba","type":"quantitative","axis":null},"y":{"field":"bb","type":"quantitative","axis":null}}},
{"data":{"values":[{"t":"(b)"}]},"mark":{"type":"text","align":"left","baseline":"alphabetic","fontSize":33},"encoding":{"x":{"datum":-61.6,"axis":null},"y":{"datum":41.4,"axis":null},"text":{"field":"t"}}},
{"data":{"values":[{"t":"σ=0"}]},"mark":{"type":"text","align":"left","baseline":"alphabetic","fontSize":24},"encoding":{"x":{"datum":-56.7,"axis":null},"y":{"datum":-57.1,"axis":null},"text":{"field":"t"}}},
{"data":{"values":[{}]},"mark":{"type":"rect","fillOpacity":0,"stroke":"black","strokeWidth":1.5},"encoding":{"x":{"value":0},"x2":{"value":"width"},"y":{"value":0},"y2":{"value":"height"}}},
{"data":{"name":"arr"},"mark":{"type":"point","opacity":0},"encoding":{"x":{"field":"a","type":"quantitative","axis":{"orient":"top","values":[-60,-50,-40,-30,-20,-10,0,10,20,30,40,50,60],"tickSize":-4,"labels":false,"title":null}},"y":{"field":"b","type":"quantitative","axis":{"orient":"left","values":[-60,-50,-40,-30,-20,-10,0,10,20,30,40,50,60],"tickSize":-4,"labels":false,"title":null}}}}
]},
{"width":234,"height":233,"resolve":{"axis":{"x":"independent","y":"independent"}},"layer":[
{"data":{"name":"hue"},"mark":{"type":"arc","outerRadius":175,"clip":true,"strokeWidth":1},"encoding":{"theta":{"field":"w","type":"quantitative","stack":true},"order":{"field":"k","type":"quantitative"},"color":{"field":"k","type":"quantitative","legend":null,"scale":{"domain":[-0.5,4,8.5,13,17.5,22,26.5,31,35.5,40,44.5,49,53.5,58,62.5,67,69.5,71.5],"range":["#fce62c","#ffa824","#ff4e22","#ff3a42","#ff4a7c","#ff50b8","#c452ff","#7a68ff","#1e88ff","#00a0ff","#00b6ff","#00d6ff","#22ecea","#22f09c","#24ee24","#a8f424","#f2f22c","#fce62c"],"interpolate":"rgb"}},"stroke":{"field":"k","type":"quantitative","legend":null,"scale":{"domain":[-0.5,4,8.5,13,17.5,22,26.5,31,35.5,40,44.5,49,53.5,58,62.5,67,69.5,71.5],"range":["#fce62c","#ffa824","#ff4e22","#ff3a42","#ff4a7c","#ff50b8","#c452ff","#7a68ff","#1e88ff","#00a0ff","#00b6ff","#00d6ff","#22ecea","#22f09c","#24ee24","#a8f424","#f2f22c","#fce62c"],"interpolate":"rgb"}}}},
{"data":{"values":[{}]},"mark":{"type":"rect","fill":{"gradient":"radial","x1":0.5,"y1":0.5,"r1":0,"x2":0.5,"y2":0.5,"r2":0.5,"stops":[{"offset":0,"color":"rgba(255,255,255,1)"},{"offset":0.15,"color":"rgba(255,255,255,0.9)"},{"offset":0.3,"color":"rgba(255,255,255,0.7)"},{"offset":0.5,"color":"rgba(255,255,255,0.42)"},{"offset":0.7,"color":"rgba(255,255,255,0.18)"},{"offset":0.9,"color":"rgba(255,255,255,0.04)"},{"offset":1,"color":"rgba(255,255,255,0)"}]}},"encoding":{"x":{"value":0},"x2":{"value":"width"},"y":{"value":0},"y2":{"value":"height"}}},
{"data":{"values":[{}]},"mark":{"type":"rule","color":"black","strokeWidth":1.5},"encoding":{"x":{"datum":0,"type":"quantitative","scale":{"domain":[-67.5,67.5],"nice":false,"zero":false},"axis":null}}},
{"data":{"values":[{}]},"mark":{"type":"rule","color":"black","strokeWidth":1.5},"encoding":{"y":{"datum":0,"type":"quantitative","scale":{"domain":[-67.5,67.5],"nice":false,"zero":false},"axis":null}}},
{"data":{"name":"arr"},"transform":[{"filter":"sqrt(pow(datum.da-datum.a,2)+pow(datum.db-datum.b,2)) >= 1.3"}],"mark":{"type":"rule","color":"black","strokeWidth":2.2,"clip":true},"encoding":{"x":{"field":"a","type":"quantitative","scale":{"domain":[-67.5,67.5],"nice":false,"zero":false},"axis":{"orient":"bottom","values":[-60,-50,-40,-30,-20,-10,0,10,20,30,40,50,60],"tickSize":-4,"labels":false,"title":null}},"y":{"field":"b","type":"quantitative","scale":{"domain":[-67.5,67.5],"nice":false,"zero":false},"axis":{"orient":"right","values":[-60,-50,-40,-30,-20,-10,0,10,20,30,40,50,60],"tickSize":-4,"labelExpr":"datum.value % 20 == 0 ? '' + datum.value : ''","labelFontSize":19,"labelPadding":11,"title":"b* chromaticity coordinate","titleFontSize":31,"titleAngle":270,"titleX":58,"titleY":246,"titleAlign":"center","titleBaseline":"alphabetic"}},"x2":{"field":"da"},"y2":{"field":"db"}}},
{"data":{"name":"arr"},"transform":[{"filter":"sqrt(pow(datum.da-datum.a,2)+pow(datum.db-datum.b,2)) >= 1.3"}],"mark":{"type":"point","shape":"triangle-up","filled":true,"color":"black","opacity":1,"size":24,"clip":true,"angle":{"expr":"atan2(datum.da - datum.a, datum.db - datum.b) * 180 / PI"}},"encoding":{"x":{"field":"da","type":"quantitative","axis":null},"y":{"field":"db","type":"quantitative","axis":null}}},
{"data":{"name":"arr"},"transform":[{"filter":"sqrt(pow(datum.da-datum.a,2)+pow(datum.db-datum.b,2)) < 1.3"}],"mark":{"type":"point","filled":true,"fill":"white","stroke":"black","strokeWidth":1,"size":38,"opacity":1},"encoding":{"x":{"field":"da","type":"quantitative","axis":null},"y":{"field":"db","type":"quantitative","axis":null}}},
{"data":{"values":[{"t":"(d)"}]},"mark":{"type":"text","align":"left","baseline":"alphabetic","fontSize":33},"encoding":{"x":{"datum":-61.6,"axis":null},"y":{"datum":41.4,"axis":null},"text":{"field":"t"}}},
{"data":{"values":[{"t":"σ=0.55"}]},"mark":{"type":"text","align":"left","baseline":"alphabetic","fontSize":24},"encoding":{"x":{"datum":-56.7,"axis":null},"y":{"datum":-57.1,"axis":null},"text":{"field":"t"}}},
{"data":{"values":[{}]},"mark":{"type":"rect","fillOpacity":0,"stroke":"black","strokeWidth":1.5},"encoding":{"x":{"value":0},"x2":{"value":"width"},"y":{"value":0},"y2":{"value":"height"}}},
{"data":{"name":"arr"},"mark":{"type":"point","opacity":0},"encoding":{"x":{"field":"a","type":"quantitative","axis":{"orient":"top","values":[-60,-50,-40,-30,-20,-10,0,10,20,30,40,50,60],"tickSize":-4,"labels":false,"title":null}},"y":{"field":"b","type":"quantitative","axis":{"orient":"left","values":[-60,-50,-40,-30,-20,-10,0,10,20,30,40,50,60],"tickSize":-4,"labels":false,"title":null}}}}
]},
{"width":234,"height":233,"resolve":{"axis":{"x":"independent","y":"independent"}},"layer":[
{"data":{"name":"hue"},"mark":{"type":"arc","outerRadius":175,"clip":true,"strokeWidth":1},"encoding":{"theta":{"field":"w","type":"quantitative","stack":true},"order":{"field":"k","type":"quantitative"},"color":{"field":"k","type":"quantitative","legend":null,"scale":{"domain":[-0.5,4,8.5,13,17.5,22,26.5,31,35.5,40,44.5,49,53.5,58,62.5,67,69.5,71.5],"range":["#fce62c","#ffa824","#ff4e22","#ff3a42","#ff4a7c","#ff50b8","#c452ff","#7a68ff","#1e88ff","#00a0ff","#00b6ff","#00d6ff","#22ecea","#22f09c","#24ee24","#a8f424","#f2f22c","#fce62c"],"interpolate":"rgb"}},"stroke":{"field":"k","type":"quantitative","legend":null,"scale":{"domain":[-0.5,4,8.5,13,17.5,22,26.5,31,35.5,40,44.5,49,53.5,58,62.5,67,69.5,71.5],"range":["#fce62c","#ffa824","#ff4e22","#ff3a42","#ff4a7c","#ff50b8","#c452ff","#7a68ff","#1e88ff","#00a0ff","#00b6ff","#00d6ff","#22ecea","#22f09c","#24ee24","#a8f424","#f2f22c","#fce62c"],"interpolate":"rgb"}}}},
{"data":{"values":[{}]},"mark":{"type":"rect","fill":{"gradient":"radial","x1":0.5,"y1":0.5,"r1":0,"x2":0.5,"y2":0.5,"r2":0.5,"stops":[{"offset":0,"color":"rgba(255,255,255,1)"},{"offset":0.15,"color":"rgba(255,255,255,0.9)"},{"offset":0.3,"color":"rgba(255,255,255,0.7)"},{"offset":0.5,"color":"rgba(255,255,255,0.42)"},{"offset":0.7,"color":"rgba(255,255,255,0.18)"},{"offset":0.9,"color":"rgba(255,255,255,0.04)"},{"offset":1,"color":"rgba(255,255,255,0)"}]}},"encoding":{"x":{"value":0},"x2":{"value":"width"},"y":{"value":0},"y2":{"value":"height"}}},
{"data":{"values":[{}]},"mark":{"type":"rule","color":"black","strokeWidth":1.5},"encoding":{"x":{"datum":0,"type":"quantitative","scale":{"domain":[-67.5,67.5],"nice":false,"zero":false},"axis":null}}},
{"data":{"values":[{}]},"mark":{"type":"rule","color":"black","strokeWidth":1.5},"encoding":{"y":{"datum":0,"type":"quantitative","scale":{"domain":[-67.5,67.5],"nice":false,"zero":false},"axis":null}}},
{"data":{"name":"arr"},"transform":[{"filter":"sqrt(pow(datum.fa-datum.a,2)+pow(datum.fb-datum.b,2)) >= 1.3"}],"mark":{"type":"rule","color":"black","strokeWidth":2.2,"clip":true},"encoding":{"x":{"field":"a","type":"quantitative","scale":{"domain":[-67.5,67.5],"nice":false,"zero":false},"axis":{"orient":"bottom","values":[-60,-50,-40,-30,-20,-10,0,10,20,30,40,50,60],"tickSize":-4,"labels":false,"title":null}},"y":{"field":"b","type":"quantitative","scale":{"domain":[-67.5,67.5],"nice":false,"zero":false},"axis":{"orient":"right","values":[-60,-50,-40,-30,-20,-10,0,10,20,30,40,50,60],"tickSize":-4,"labelExpr":"datum.value % 20 == 0 ? '' + datum.value : ''","labelFontSize":19,"labelPadding":11,"title":null}},"x2":{"field":"fa"},"y2":{"field":"fb"}}},
{"data":{"name":"arr"},"transform":[{"filter":"sqrt(pow(datum.fa-datum.a,2)+pow(datum.fb-datum.b,2)) >= 1.3"}],"mark":{"type":"point","shape":"triangle-up","filled":true,"color":"black","opacity":1,"size":24,"clip":true,"angle":{"expr":"atan2(datum.fa - datum.a, datum.fb - datum.b) * 180 / PI"}},"encoding":{"x":{"field":"fa","type":"quantitative","axis":null},"y":{"field":"fb","type":"quantitative","axis":null}}},
{"data":{"name":"arr"},"transform":[{"filter":"sqrt(pow(datum.fa-datum.a,2)+pow(datum.fb-datum.b,2)) < 1.3"}],"mark":{"type":"point","filled":true,"fill":"white","stroke":"black","strokeWidth":1,"size":38,"opacity":1},"encoding":{"x":{"field":"fa","type":"quantitative","axis":null},"y":{"field":"fb","type":"quantitative","axis":null}}},
{"data":{"values":[{"t":"(f)"}]},"mark":{"type":"text","align":"left","baseline":"alphabetic","fontSize":33},"encoding":{"x":{"datum":-59,"axis":null},"y":{"datum":41.4,"axis":null},"text":{"field":"t"}}},
{"data":{"values":[{"t":"σ=0.78"}]},"mark":{"type":"text","align":"left","baseline":"alphabetic","fontSize":24},"encoding":{"x":{"datum":-58,"axis":null},"y":{"datum":-57.1,"axis":null},"text":{"field":"t"}}},
{"data":{"values":[{}]},"mark":{"type":"rect","fillOpacity":0,"stroke":"black","strokeWidth":1.5},"encoding":{"x":{"value":0},"x2":{"value":"width"},"y":{"value":0},"y2":{"value":"height"}}},
{"data":{"name":"arr"},"mark":{"type":"point","opacity":0},"encoding":{"x":{"field":"a","type":"quantitative","axis":{"orient":"top","values":[-60,-50,-40,-30,-20,-10,0,10,20,30,40,50,60],"tickSize":-4,"labels":false,"title":null}},"y":{"field":"b","type":"quantitative","axis":{"orient":"left","values":[-60,-50,-40,-30,-20,-10,0,10,20,30,40,50,60],"tickSize":-4,"labels":false,"title":null}}}}
]},
{"width":234,"height":233,"resolve":{"axis":{"x":"independent","y":"independent"}},"layer":[
{"data":{"name":"hue"},"mark":{"type":"arc","outerRadius":175,"clip":true,"strokeWidth":1},"encoding":{"theta":{"field":"w","type":"quantitative","stack":true},"order":{"field":"k","type":"quantitative"},"color":{"field":"k","type":"quantitative","legend":null,"scale":{"domain":[-0.5,4,8.5,13,17.5,22,26.5,31,35.5,40,44.5,49,53.5,58,62.5,67,69.5,71.5],"range":["#fce62c","#ffa824","#ff4e22","#ff3a42","#ff4a7c","#ff50b8","#c452ff","#7a68ff","#1e88ff","#00a0ff","#00b6ff","#00d6ff","#22ecea","#22f09c","#24ee24","#a8f424","#f2f22c","#fce62c"],"interpolate":"rgb"}},"stroke":{"field":"k","type":"quantitative","legend":null,"scale":{"domain":[-0.5,4,8.5,13,17.5,22,26.5,31,35.5,40,44.5,49,53.5,58,62.5,67,69.5,71.5],"range":["#fce62c","#ffa824","#ff4e22","#ff3a42","#ff4a7c","#ff50b8","#c452ff","#7a68ff","#1e88ff","#00a0ff","#00b6ff","#00d6ff","#22ecea","#22f09c","#24ee24","#a8f424","#f2f22c","#fce62c"],"interpolate":"rgb"}}}},
{"data":{"values":[{}]},"mark":{"type":"rect","fill":{"gradient":"radial","x1":0.5,"y1":0.5,"r1":0,"x2":0.5,"y2":0.5,"r2":0.5,"stops":[{"offset":0,"color":"rgba(255,255,255,1)"},{"offset":0.15,"color":"rgba(255,255,255,0.9)"},{"offset":0.3,"color":"rgba(255,255,255,0.7)"},{"offset":0.5,"color":"rgba(255,255,255,0.42)"},{"offset":0.7,"color":"rgba(255,255,255,0.18)"},{"offset":0.9,"color":"rgba(255,255,255,0.04)"},{"offset":1,"color":"rgba(255,255,255,0)"}]}},"encoding":{"x":{"value":0},"x2":{"value":"width"},"y":{"value":0},"y2":{"value":"height"}}},
{"data":{"values":[{}]},"mark":{"type":"rule","color":"black","strokeWidth":1.5},"encoding":{"x":{"datum":0,"type":"quantitative","scale":{"domain":[-67.5,67.5],"nice":false,"zero":false},"axis":null}}},
{"data":{"values":[{}]},"mark":{"type":"rule","color":"black","strokeWidth":1.5},"encoding":{"y":{"datum":0,"type":"quantitative","scale":{"domain":[-67.5,67.5],"nice":false,"zero":false},"axis":null}}},
{"data":{"name":"arr"},"transform":[{"filter":"sqrt(pow(datum.ha-datum.a,2)+pow(datum.hb-datum.b,2)) >= 0.9"}],"mark":{"type":"rule","color":"black","strokeWidth":2.2,"clip":true},"encoding":{"x":{"field":"a","type":"quantitative","scale":{"domain":[-67.5,67.5],"nice":false,"zero":false},"axis":{"orient":"bottom","values":[-60,-50,-40,-30,-20,-10,0,10,20,30,40,50,60],"tickSize":-4,"labelExpr":"datum.value % 20 == 0 ? '' + datum.value : ''","labelFontSize":18,"labelPadding":12,"labelFlush":false,"labelOverlap":false,"title":["a* chromaticity","coordinate"],"titleFontSize":26,"titlePadding":2,"titleLineHeight":38}},"y":{"field":"b","type":"quantitative","scale":{"domain":[-67.5,67.5],"nice":false,"zero":false},"axis":{"orient":"right","values":[-60,-50,-40,-30,-20,-10,0,10,20,30,40,50,60],"tickSize":-4,"labelExpr":"datum.value % 20 == 0 ? '' + datum.value : ''","labelFontSize":19,"labelPadding":11,"title":null}},"x2":{"field":"ha"},"y2":{"field":"hb"}}},
{"data":{"name":"arr"},"transform":[{"filter":"sqrt(pow(datum.ha-datum.a,2)+pow(datum.hb-datum.b,2)) >= 0.9"}],"mark":{"type":"point","shape":"triangle-up","filled":true,"color":"black","opacity":1,"size":24,"clip":true,"angle":{"expr":"atan2(datum.ha - datum.a, datum.hb - datum.b) * 180 / PI"}},"encoding":{"x":{"field":"ha","type":"quantitative","axis":null},"y":{"field":"hb","type":"quantitative","axis":null}}},
{"data":{"name":"arr"},"transform":[{"filter":"sqrt(pow(datum.ha-datum.a,2)+pow(datum.hb-datum.b,2)) < 0.9"}],"mark":{"type":"point","filled":true,"fill":"white","stroke":"black","strokeWidth":1,"size":38,"opacity":1},"encoding":{"x":{"field":"ha","type":"quantitative","axis":null},"y":{"field":"hb","type":"quantitative","axis":null}}},
{"data":{"values":[{"t":"(h)"}]},"mark":{"type":"text","align":"left","baseline":"alphabetic","fontSize":33},"encoding":{"x":{"datum":-61.6,"axis":null},"y":{"datum":41.4,"axis":null},"text":{"field":"t"}}},
{"data":{"values":[{"t":"σ=1"}]},"mark":{"type":"text","align":"left","baseline":"alphabetic","fontSize":24},"encoding":{"x":{"datum":-56.7,"axis":null},"y":{"datum":-57.1,"axis":null},"text":{"field":"t"}}},
{"data":{"values":[{}]},"mark":{"type":"rect","fillOpacity":0,"stroke":"black","strokeWidth":1.5},"encoding":{"x":{"value":0},"x2":{"value":"width"},"y":{"value":0},"y2":{"value":"height"}}},
{"data":{"name":"arr"},"mark":{"type":"point","opacity":0},"encoding":{"x":{"field":"a","type":"quantitative","axis":{"orient":"top","values":[-60,-50,-40,-30,-20,-10,0,10,20,30,40,50,60],"tickSize":-4,"labels":false,"title":null}},"y":{"field":"b","type":"quantitative","axis":{"orient":"left","values":[-60,-50,-40,-30,-20,-10,0,10,20,30,40,50,60],"tickSize":-4,"labels":false,"title":null}}}}
]}
],"spacing":17,"bounds":"flush"}
]
}
